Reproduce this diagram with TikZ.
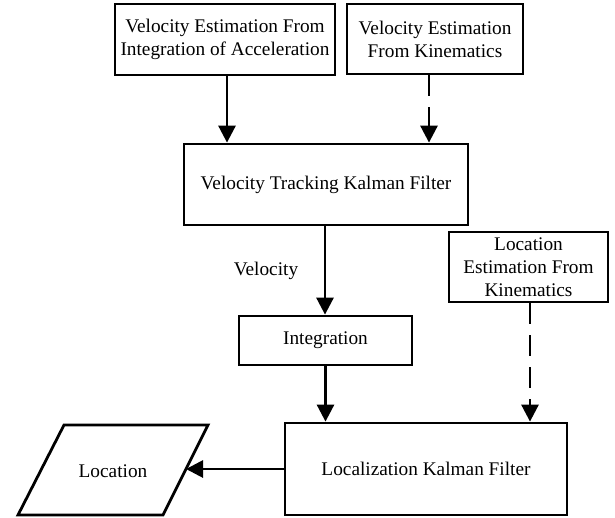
\documentclass[tikz,border=0pt]{standalone}
\usepackage{fontspec}
\setmainfont{Liberation Serif}
\usetikzlibrary{arrows.meta}
\begin{document}
\begin{tikzpicture}[x=1pt,y=-1pt,
  every node/.style={font=\fontsize{19.3}{23}\selectfont},
  box/.style={draw,line width=2.8pt,align=center,inner sep=0pt},
  arr/.style={line width=2.8pt,-{Triangle[width=17pt,length=17pt]}},
  dsh/.style={arr,dash pattern=on 21pt off 11pt}]
\useasboundingbox (0,0) rectangle (615,517);
\node[box,minimum width=220,minimum height=71] (b1) at (225,39.5) {Velocity Estimation From\\Integration of Acceleration};
\node[box,minimum width=176,minimum height=70] (b2) at (435,39) {Velocity Estimation\\From Kinematics};
\node[box,minimum width=284,minimum height=81] (b3) at (326,184.5) {Velocity Tracking Kalman Filter};
\node[box,minimum width=159,minimum height=70] (b4) at (528.5,267) {Location\\Estimation From\\Kinematics};
\node[box,minimum width=173,minimum height=49] (b5) at (325.5,340.5) {Integration};
\node[box,minimum width=282,minimum height=92] (b6) at (426,469) {Localization Kalman Filter};
\node (loc) at (113,471) {Location};
\draw[line width=2.8pt,line join=miter] (64,425) -- (208,425) -- (163,515) -- (18,515) -- cycle;
\coordinate (locR) at (186,469);
\node (vel) at (266,271) {Velocity};
\draw[arr] ([xshift=2pt]b1.south) -- ([xshift=2pt]b1.south |- b3.north);
\draw[dsh] ([xshift=-6pt]b2.south) -- ([xshift=-6pt]b2.south |- b3.north);
\draw[arr] ([xshift=-1pt]b3.south) -- ([xshift=-1pt]b3.south |- b5.north);
\draw[arr] (b5.south) -- (b5.south |- b6.north);
\draw[dsh] ([xshift=1.5pt]b4.south) -- ([xshift=1.5pt]b4.south |- b6.north);
\draw[arr] (b6.west) -- (locR);
\end{tikzpicture}
\end{document}
